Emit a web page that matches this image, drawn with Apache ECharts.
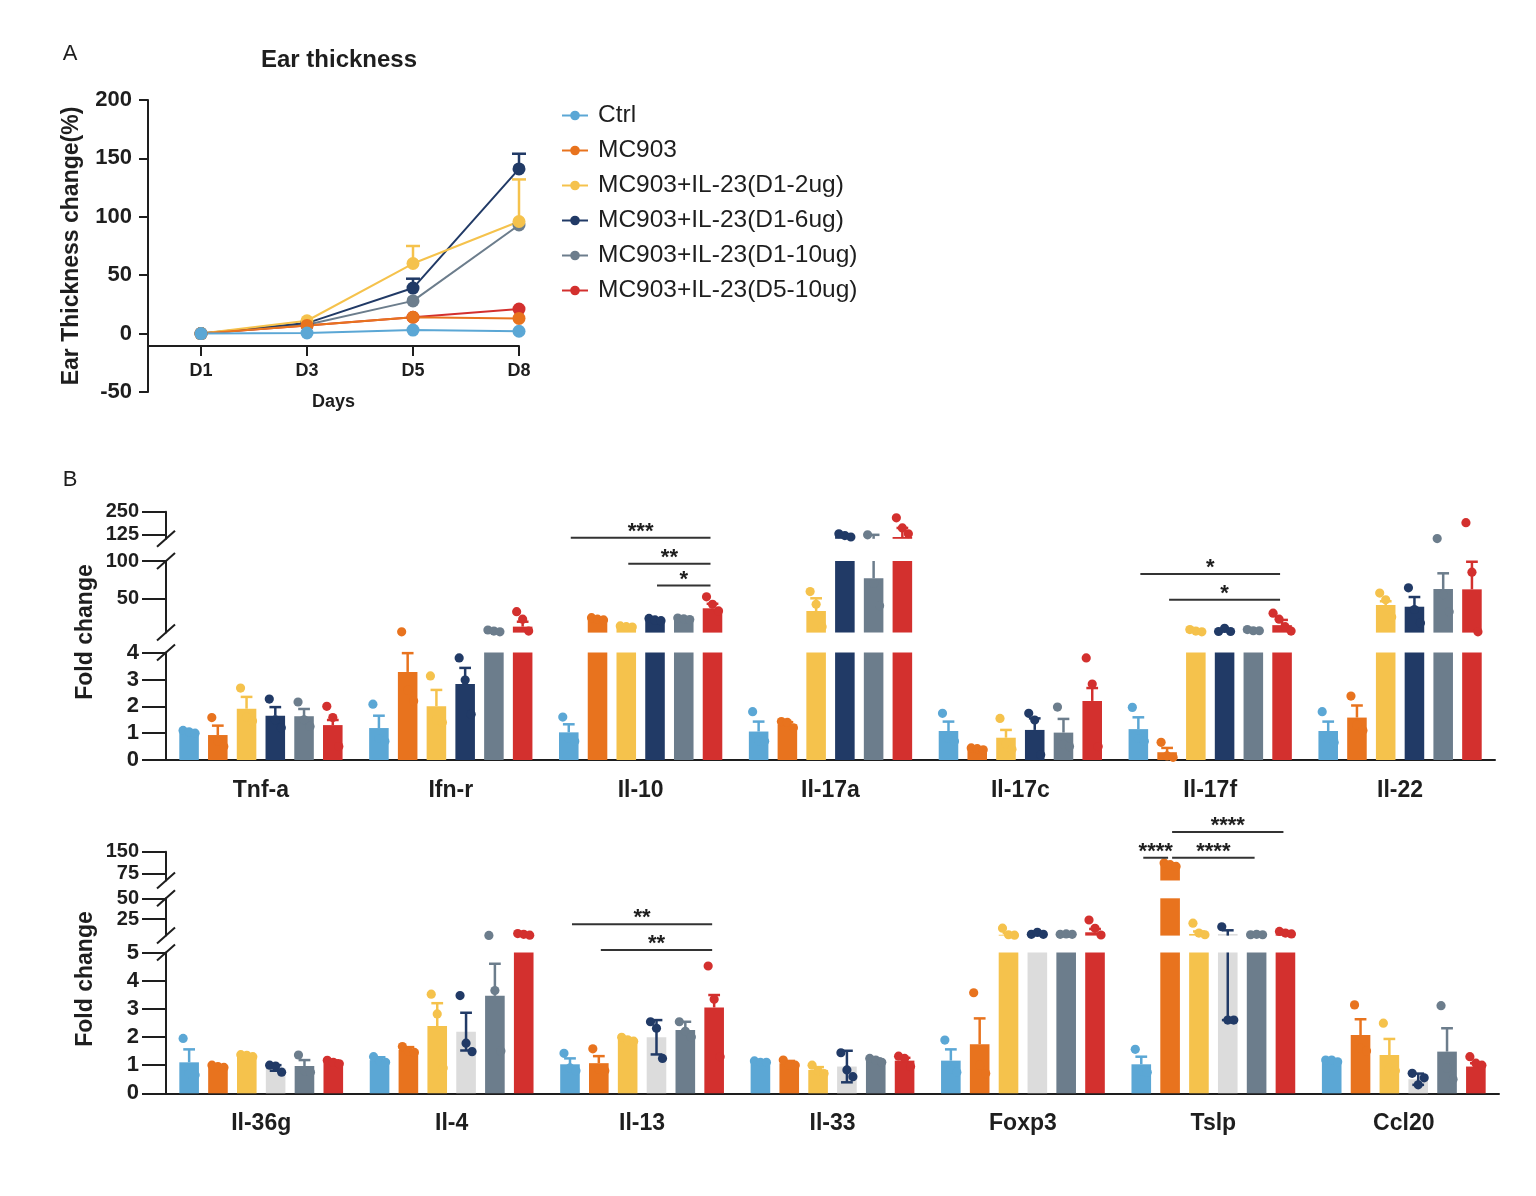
<!DOCTYPE html>
<html>
<head>
<meta charset="utf-8">
<script src="https://cdn.jsdelivr.net/npm/echarts@6.0.0/dist/echarts.min.js"></script>
<style>
html, body { margin: 0; padding: 0; background: #fff; }
#main { width: 1536px; height: 1196px; }
</style>
</head>
<body>
<div id="main"></div>
<script>
var DOM = { main: document.getElementById('main') };
var chart = echarts.init(DOM.main);

var FONT = '"Liberation Sans", Arial, sans-serif';
var INK = '#1e1e1e';

// ---------- A: ear thickness ----------
var days = ['D1', 'D3', 'D5', 'D8'];
var groups = ['Ctrl', 'MC903', 'MC903+IL-23(D1-2ug)', 'MC903+IL-23(D1-6ug)', 'MC903+IL-23(D1-10ug)', 'MC903+IL-23(D5-10ug)'];
var colors = ['#5ba7d5', '#e8731e', '#f5c24c', '#213a66', '#6c7d8c', '#d3302e'];

var earCtrl = [0, 0.5, 3, 2];
var earMC903 = [0, 7, 14, 13];
var earD1_2ug = [0, 11, 60, 96];
var earD1_6ug = [0, 9, 39, 141];
var earD1_10ug = [0, 7.5, 28, 93];
var earD5_10ug = [0, 7, 14, 21];
// upper error (SEM), null = not drawn
var earErrD1_2ug = [null, null, 15, 36];
var earErrD1_6ug = [null, null, 8, 13];

var earMean = [earCtrl, earMC903, earD1_2ug, earD1_6ug, earD1_10ug, earD5_10ug];
var earErr = [null, null, earErrD1_2ug, earErrD1_6ug, null, null];

// ---------- B: fold change ----------
var genesTop = ['Tnf-a', 'Ifn-r', 'Il-10', 'Il-17a', 'Il-17c', 'Il-17f', 'Il-22'];
var genesBot = ['Il-36g', 'Il-4', 'Il-13', 'Il-33', 'Foxp3', 'Tslp', 'Ccl20'];

var topCtrl    = [1.05, 1.19, 1.03, 1.06, 1.08, 1.15, 1.08];
var topMC903   = [0.93, 3.28, 22, 1.33, 0.41, 0.29, 1.58];
var topD1_2ug  = [1.91, 2.0, 12, 33, 0.83, 5.5, 41];
var topD1_6ug  = [1.65, 2.83, 21, 119, 1.12, 6.9, 38.7];
var topD1_10ug = [1.63, 6, 22.5, 77, 1.02, 6, 62.5];
var topD5_10ug = [1.30, 12, 36.6, 110, 2.2, 14, 62];

var topCtrlErr    = [0.04, 0.46, 0.30, 0.37, 0.35, 0.44, 0.35];
var topMC903Err   = [0.35, 0.70, 1.5, 0.08, 0.03, 0.16, 0.45];
var topD1_2ugErr  = [0.44, 0.61, 1, 17, 0.29, 1.5, 5];
var topD1_6ugErr  = [0.32, 0.60, 1.5, 5, 0.43, 1, 13];
var topD1_10ugErr = [0.27, 1, 1, 45, 0.51, 1, 21];
var topD5_10ugErr = [0.19, 6.6, 6, 50, 0.48, 7, 37];

var topCtrlPts    = [[1.1, 1.05, 1.0], [2.08, 0.8, 0.7], [1.6, 0.8, 0.7], [1.8, 0.7, 0.7], [1.74, 0.8, 0.7], [1.96, 0.8, 0.7], [1.8, 0.8, 0.65]];
var topMC903Pts   = [[1.58, 0.7, 0.5], [5.0, 2.6, 2.2], [24, 22, 21], [1.43, 1.4, 1.2], [0.45, 0.42, 0.38], [0.66, 0.15, 0.1], [2.38, 1.3, 1.1]];
var topD1_2ugPts  = [[2.68, 1.6, 1.45], [3.13, 1.5, 1.4], [13, 12, 11.5], [59, 42, 12], [1.55, 0.6, 0.4], [8, 6, 5], [57, 48, 25]];
var topD1_6ugPts  = [[2.27, 1.5, 1.2], [3.8, 2.98, 1.7], [23, 21, 20], [128, 118, 110], [1.74, 1.49, 0.2], [5.5, 9.7, 5.5], [64, 35, 17]];
var topD1_10ugPts = [[2.16, 1.5, 1.25], [7.5, 6, 5], [23.5, 22.5, 21.5], [122, 70, 40], [1.97, 0.6, 0.5], [8, 6.5, 6.5], [101, 55, 32]];
var topD5_10ugPts = [[2.0, 1.58, 0.5], [32, 22, 6], [52, 42, 33], [216, 160, 128], [3.8, 2.83, 0.5], [30, 22, 12, 6], [189, 85, 5]];

var botCtrl    = [1.1, 1.18, 1.03, 1.12, 1.16, 1.03, 1.16];
var botMC903   = [0.95, 1.54, 1.07, 1.07, 1.74, 104, 2.07];
var botD1_2ug  = [1.32, 2.39, 1.89, 0.83, 6, 7, 1.36];
var botD1_6ug  = [0.9, 2.19, 1.99, 0.95, 6, 7, 0.5];
var botD1_10ug = [0.97, 3.46, 2.25, 1.16, 6, 5.5, 1.48];
var botD5_10ug = [1.12, 5.5, 3.05, 1.16, 9, 6.5, 0.95];

var botCtrlErr    = [0.46, 0.1, 0.21, 0.03, 0.4, 0.27, 0.05];
var botMC903Err   = [0.05, 0.1, 0.25, 0.08, 0.92, 5, 0.56];
var botD1_2ugErr  = [0.05, 0.81, 0.05, 0.1, 2, 3, 0.57];
var botD1_6ugErr  = [0.1, 0.67, 0.61, 0.56, 0.5, 4.4, 0.2];
var botD1_10ugErr = [0.21, 1.14, 0.29, 0.08, 0.5, 0.3, 0.83];
var botD5_10ugErr = [0.05, 1, 0.44, 0.1, 4, 1, 0.12];

var botCtrlPts    = [[1.95, 0.7, 0.65], [1.3, 1.15, 1.1], [1.42, 0.9, 0.8], [1.15, 1.1, 1.1], [1.89, 0.85, 0.75], [1.56, 0.8, 0.75], [1.18, 1.18, 1.12]];
var botMC903Pts   = [[1.0, 0.95, 0.92], [1.66, 1.5, 1.45], [1.58, 0.85, 0.8], [1.18, 1.0, 1.0], [3.57, 1.0, 0.7], [111, 105, 99], [3.14, 1.6, 1.5]];
var botD1_2ugPts  = [[1.37, 1.35, 1.3], [3.52, 2.82, 0.9], [1.99, 1.9, 1.85], [1.0, 0.8, 0.7], [14, 6, 5.5], [20, 8, 6], [2.49, 0.9, 0.8]];
var botD1_6ugPts  = [[1.0, 0.97, 0.75], [3.47, 1.78, 1.48], [2.54, 2.31, 1.24], [1.44, 0.83, 0.59], [6.5, 9, 6.5], [15.7, 2.6, 2.6], [0.71, 0.3, 0.55]];
var botD1_10ugPts = [[1.36, 0.8, 0.75], [5.2, 3.65, 1.5], [2.54, 2.2, 2.0], [1.24, 1.18, 1.1], [6.5, 7, 6.5], [6, 6.5, 6], [3.11, 0.9, 0.5]];
var botD5_10ugPts = [[1.17, 1.1, 1.05], [7.5, 6.5, 5.5], [4.52, 3.34, 1.3], [1.32, 1.24, 0.95], [23.8, 13.8, 5.7], [10, 8, 7], [1.3, 1.07, 1.0]];

// significance: [gene, fromGroup, toGroup, height, segment, textIndex]
var sigTop = [[2, 0, 5, 106, 2, 0], [2, 2, 5, 96.4, 1, 1], [2, 3, 5, 67, 1, 2], [5, 0, 5, 82.5, 1, 3], [5, 1, 5, 48, 1, 4]];
var sigTopText = ['***', '**', '*', '*', '*'];
var sigBot = [[2, 0, 5, 18.6, 1, 0], [2, 1, 5, 5.09, 0, 1], [5, 1, 5, 218, 2, 2], [5, 0, 1, 129, 2, 3], [5, 1, 4, 129, 2, 4]];
var sigBotText = ['**', '**', '****', '****', '****'];

var topTicks = [[0, 1, 2, 3, 4], [50, 100], [125, 250]];
var botTicks = [[0, 1, 2, 3, 4, 5], [25, 50], [75, 150]];

// broken axis layout
var TOP_LEFT = 166, TOP_W = 1329, BOT_LEFT = 166, BOT_W = 1333;
var topSegs = [
    {min: 0, max: 4, top: 652.6, height: 107.4},
    {min: 4, max: 100, top: 561, height: 71.6},
    {min: 100, max: 250, top: 511.7, height: 27.1}
];
var botSegs = [
    {min: 0, max: 5, top: 952.5, height: 140.8},
    {min: 5, max: 50, top: 898.3, height: 37.3},
    {min: 50, max: 150, top: 851.7, height: 28.8}
];
var BAR_W = 0.103, BAR_GAP = 0.47, PITCH = BAR_W * (1 + BAR_GAP);

function seg(x1, y1, x2, y2, c, w) {
    return {type: 'line', shape: {x1: x1, y1: y1, x2: x2, y2: y2}, style: {stroke: c, lineWidth: w || 2.5}};
}

var grids = [{left: 148, top: 100, width: 371, height: 292, outerBoundsMode: 'none'}];
var xAxes = [{
    type: 'value', gridIndex: 0, min: 0.5, max: 4, position: 'bottom', offset: -46,
    name: 'Days', nameLocation: 'middle', nameGap: 47,
    nameTextStyle: {fontSize: 18, fontWeight: 'bold', color: INK, fontFamily: FONT},
    axisLine: {onZero: false, lineStyle: {color: INK, width: 2}},
    axisTick: {customValues: [1, 2, 3, 4], length: 10, lineStyle: {color: INK, width: 2}},
    axisLabel: {
        customValues: [1, 2, 3, 4], formatter: function (v) { return days[v - 1]; },
        margin: 16, fontSize: 18, fontWeight: 'bold', color: INK, fontFamily: FONT
    },
    splitLine: {show: false}
}];
var yAxes = [{
    type: 'value', gridIndex: 0, min: -50, max: 200, interval: 50,
    name: 'Ear Thickness change(%)', nameLocation: 'middle', nameGap: 65, nameRotate: 90,
    nameTextStyle: {fontSize: 23, fontWeight: 'bold', color: INK, fontFamily: FONT},
    axisLine: {show: true, lineStyle: {color: INK, width: 2}},
    axisTick: {show: true, length: 9, lineStyle: {color: INK, width: 2}},
    axisLabel: {margin: 16, fontSize: 22, fontWeight: 'bold', color: INK, fontFamily: FONT},
    splitLine: {show: false}
}];

var series = [];

// A lines (Ctrl drawn last, on top)
for (var g = 5; g >= 0; g--) {
    series.push({
        type: 'line', name: groups[g], xAxisIndex: 0, yAxisIndex: 0,
        data: earMean[g].map(function (v, i) { return [i + 1, v]; }),
        symbol: 'circle', symbolSize: 13, color: colors[g],
        lineStyle: {width: 2}, z: 3
    });
    if (earErr[g]) {
        (function (g) {
            var d = [];
            earErr[g].forEach(function (e, i) { if (e != null) d.push([i + 1, earMean[g][i], e]); });
            series.push({
                type: 'custom', xAxisIndex: 0, yAxisIndex: 0, data: d, z: 2, silent: true,
                renderItem: function (params, api) {
                    var p0 = api.coord([api.value(0), api.value(1)]);
                    var p1 = api.coord([api.value(0), api.value(1) + api.value(2)]);
                    return {type: 'group', children: [
                        seg(p0[0], p0[1], p1[0], p1[1], colors[g], 2.5),
                        seg(p1[0] - 7, p1[1], p1[0] + 7, p1[1], colors[g], 2.5)
                    ]};
                }
            });
        })(g);
    }
}

function decorItem(sg, g, color, showLow, pts) {
    return function (params, api) {
        var cat = api.value(0), m = api.value(1), e = api.value(2);
        var band = api.size([1, 0])[0];
        var x = api.coord([cat, 0])[0] + (g - 2.5) * PITCH * band;
        var capW = BAR_W * band * 0.6;
        var kids = [];
        var hi = m + e, lo = showLow ? m - e : m;
        var a = Math.max(lo, sg.min), b = Math.min(hi, sg.max);
        if (b > a) {
            kids.push(seg(x, api.coord([cat, a])[1], x, api.coord([cat, b])[1], color));
            if (hi >= sg.min && hi <= sg.max) {
                var yh = api.coord([cat, hi])[1];
                kids.push(seg(x - capW / 2, yh, x + capW / 2, yh, color));
            }
            if (showLow && lo >= sg.min && lo <= sg.max) {
                var yl = api.coord([cat, lo])[1];
                kids.push(seg(x - capW / 2, yl, x + capW / 2, yl, color));
            }
        }
        var dots = pts[params.dataIndex];
        dots.forEach(function (v, k) {
            if (v < sg.min || v > sg.max) return;
            var dx = (k - (dots.length - 1) / 2) * 6;
            kids.push({type: 'circle', shape: {cx: x + dx, cy: api.coord([cat, v])[1], r: 4.6}, style: {fill: color}});
        });
        return {type: 'group', children: kids};
    };
}

function sigItem(texts) {
    return function (params, api) {
        var cat = api.value(0), g1 = api.value(1), g2 = api.value(2), h = api.value(3);
        var band = api.size([1, 0])[0];
        var xc = api.coord([cat, 0])[0];
        var x1 = xc + (g1 - 2.5) * PITCH * band + 2;
        var x2 = xc + (g2 - 2.5) * PITCH * band - 2;
        var y = api.coord([cat, h])[1];
        return {type: 'group', children: [
            seg(x1, y, x2, y, '#333', 2),
            {type: 'text', x: (x1 + x2) / 2, y: y - 6, style: {
                text: texts[api.value(5)], fill: INK, font: 'bold 22px ' + FONT,
                align: 'center', verticalAlign: 'middle', textAlign: 'center', textVerticalAlign: 'middle'
            }}
        ]};
    };
}

function addPanel(opt) {
    opt.segs.forEach(function (sg, s) {
        var idx = grids.length;
        grids.push({left: opt.left, width: opt.width, top: sg.top, height: sg.height, outerBoundsMode: 'none'});
        xAxes.push({
            type: 'category', gridIndex: idx, data: opt.genes, show: s === 0,
            axisLine: {lineStyle: {color: INK, width: 2}},
            axisTick: {alignWithLabel: true, length: 12, lineStyle: {color: INK, width: 2}},
            axisLabel: {interval: 0, margin: 19, fontSize: 23, fontWeight: 'bold', color: INK, fontFamily: FONT}
        });
        yAxes.push({
            type: 'value', gridIndex: idx, min: sg.min, max: sg.max,
            axisLine: {show: true, onZero: false, lineStyle: {color: INK, width: 2}},
            axisTick: {show: true, length: 24, customValues: opt.ticks[s], lineStyle: {color: INK, width: 2}},
            axisLabel: {
                customValues: opt.ticks[s], interval: 0, hideOverlap: false,
                margin: 27, fontSize: s === 0 ? 22 : 20, fontWeight: 'bold', color: INK, fontFamily: FONT
            },
            splitLine: {show: false}
        });
        var xi = xAxes.length - 1, yi = yAxes.length - 1;
        opt.means.forEach(function (m, g) {
            series.push({
                type: 'bar', name: groups[g] + ' bar', xAxisIndex: xi, yAxisIndex: yi, data: m,
                barWidth: (BAR_W * 100) + '%', barGap: (BAR_GAP * 100) + '%',
                itemStyle: {color: opt.barColors[g]}, silent: true, clip: true
            });
        });
        opt.means.forEach(function (m, g) {
            series.push({
                type: 'custom', xAxisIndex: xi, yAxisIndex: yi, z: 3, silent: true,
                data: m.map(function (v, i) { return [i, v, opt.errs[g][i]]; }),
                renderItem: decorItem(sg, g, colors[g], opt.barColors[g] !== colors[g], opt.pts[g])
            });
        });
        var sigs = opt.sigs.filter(function (r) { return r[4] === s; });
        if (sigs.length) {
            series.push({
                type: 'custom', xAxisIndex: xi, yAxisIndex: yi, z: 4, silent: true, clip: false,
                data: sigs, renderItem: sigItem(opt.sigText)
            });
        }
    });
}

addPanel({
    left: TOP_LEFT, width: TOP_W, segs: topSegs, ticks: topTicks, genes: genesTop,
    means: [topCtrl, topMC903, topD1_2ug, topD1_6ug, topD1_10ug, topD5_10ug],
    errs: [topCtrlErr, topMC903Err, topD1_2ugErr, topD1_6ugErr, topD1_10ugErr, topD5_10ugErr],
    pts: [topCtrlPts, topMC903Pts, topD1_2ugPts, topD1_6ugPts, topD1_10ugPts, topD5_10ugPts],
    barColors: colors, sigs: sigTop, sigText: sigTopText
});
addPanel({
    left: BOT_LEFT, width: BOT_W, segs: botSegs, ticks: botTicks, genes: genesBot,
    means: [botCtrl, botMC903, botD1_2ug, botD1_6ug, botD1_10ug, botD5_10ug],
    errs: [botCtrlErr, botMC903Err, botD1_2ugErr, botD1_6ugErr, botD1_10ugErr, botD5_10ugErr],
    pts: [botCtrlPts, botMC903Pts, botD1_2ugPts, botD1_6ugPts, botD1_10ugPts, botD5_10ugPts],
    barColors: [colors[0], colors[1], colors[2], '#dcdcdc', colors[4], colors[5]],
    sigs: sigBot, sigText: sigBotText
});

// axis break marks at segment ends
function breakMarks(x, segs) {
    var out = [];
    segs.forEach(function (sg, i) {
        if (i > 0) out.push(seg(x - 9, sg.top + sg.height + 8, x + 9, sg.top + sg.height - 8, INK, 2));
        if (i < segs.length - 1) out.push(seg(x - 9, sg.top + 8, x + 9, sg.top - 8, INK, 2));
    });
    return out;
}

function label(text, x, y, size, weight, rot) {
    return {
        type: 'text', x: x, y: y, rotation: rot || 0,
        style: {
            text: text, fill: INK, font: (weight || 'normal') + ' ' + size + 'px ' + FONT,
            align: 'center', verticalAlign: 'middle', textAlign: 'center', textVerticalAlign: 'middle'
        }
    };
}

var graphics = [
    label('A', 70, 54, 22),
    label('Ear thickness', 339, 60, 24, 'bold'),
    label('B', 70, 480, 22),
    label('Fold change', 86, 632, 23, 'bold', Math.PI / 2),
    label('Fold change', 86, 979, 23, 'bold', Math.PI / 2)
].concat(breakMarks(TOP_LEFT, topSegs)).concat(breakMarks(BOT_LEFT, botSegs));

option = {
    animation: false,
    backgroundColor: '#fff',
    legend: {
        data: groups, orient: 'vertical', left: 556, top: 98,
        itemWidth: 26, itemHeight: 12, itemGap: 10, selectedMode: false,
        textStyle: {fontSize: 24.5, color: INK, fontFamily: FONT, padding: [0, 0, 0, 5]}
    },
    grid: grids,
    xAxis: xAxes,
    yAxis: yAxes,
    graphic: graphics,
    series: series
};
chart.setOption(option);
</script>
</body>
</html>
